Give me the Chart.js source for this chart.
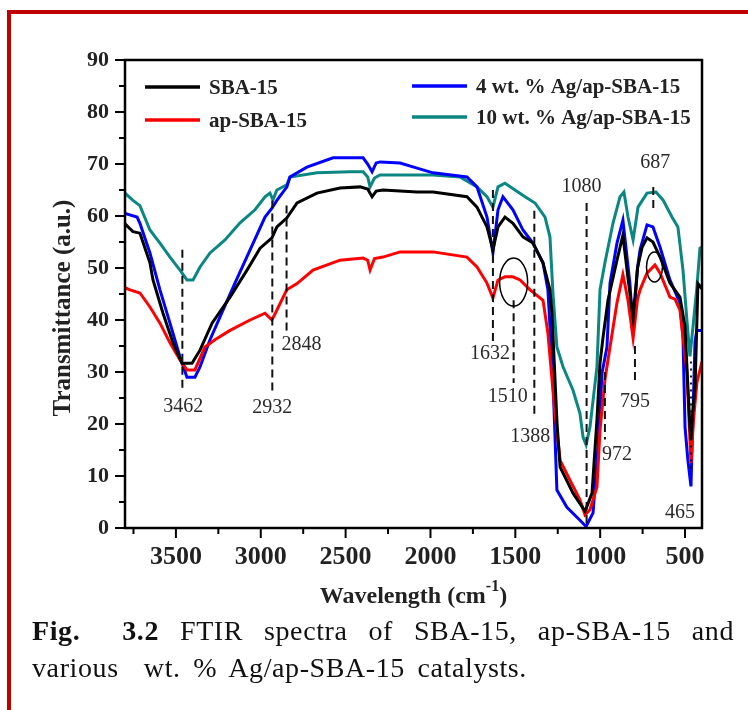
<!DOCTYPE html>
<html>
<head>
<meta charset="utf-8">
<title>FTIR spectra</title>
<script src="https://cdn.jsdelivr.net/npm/chart.js@4.4.1/dist/chart.umd.min.js"></script>
<style>
  html, body { margin: 0; padding: 0; background: #fff; }
  #page { position: relative; width: 748px; height: 710px; overflow: hidden; }
  #chartBox { position: absolute; left: 0; top: 0; width: 748px; height: 612px; }
  #frame { position: absolute; left: 7px; top: 10px; right: -10px; bottom: -10px;
           border-left: 4px solid #c00000; border-top: 4px solid #c00000; pointer-events: none; }
  .cap { position: absolute; left: 32px; width: 702px; color: #111; letter-spacing: 0.6px;
         font: 28px "Liberation Serif", "Times New Roman", serif; white-space: nowrap; }
  #cap1 { top: 615px; text-align: justify; text-align-last: justify; white-space: normal; }
  #cap2 { top: 652px; word-spacing: 5px; }
</style>
</head>
<body>
<div id="page">
  <div id="chartBox"><canvas id="ftirChart" width="748" height="612"></canvas></div>
  <div id="frame"></div>
  <div class="cap" id="cap1"><b>Fig.</b>&nbsp; <b>3.2</b> FTIR spectra of SBA-15, ap-SBA-15 and</div>
  <div class="cap" id="cap2">various&nbsp; wt. % Ag/ap-SBA-15 catalysts.</div>
</div>

<script>
'use strict';

/* --- Data (wavenumber cm-1 / transmittance a.u.) --- */
const seriesNames = ['SBA-15', 'ap-SBA-15', '4 wt. % Ag/ap-SBA-15', '10 wt. % Ag/ap-SBA-15'];

const wnSba = [3800, 3753, 3712, 3653, 3635, 3576, 3517, 3464, 3405, 3358, 3287, 3181, 3081, 3004, 2934, 2905, 2847, 2786, 2669, 2533, 2415, 2370, 2344, 2320, 2280, 2079, 1985, 1785, 1726, 1667, 1632, 1602, 1561, 1514, 1455, 1396, 1337, 1296, 1284, 1254, 1236, 1160, 1089, 1048, 1019, 1001, 983, 954, 901, 866, 836, 806, 780, 753, 724, 689, 647, 589, 530, 500, 483, 471, 465, 455, 441, 424, 400];
const tSba = [58.5, 57, 56.7, 51, 47.7, 41.3, 35.6, 31.7, 31.7, 34.2, 39.4, 44.4, 49.6, 53.8, 55.8, 57.9, 59.6, 62.5, 64.4, 65.4, 65.6, 65.2, 63.7, 64.8, 65, 64.6, 64.6, 63.7, 61.7, 57.9, 53.5, 57.9, 59.8, 58.6, 56, 54.8, 51, 45.8, 41.3, 20, 11.7, 6.7, 3.2, 6.7, 20.8, 31.7, 36.7, 43.8, 51.5, 56.3, 48, 40.5, 50, 54, 55.8, 55, 52.1, 47.1, 44.4, 38.7, 27, 19.4, 17, 22, 27, 47, 46];

const wnApSba = [3800, 3770, 3712, 3653, 3594, 3535, 3476, 3435, 3388, 3329, 3270, 3181, 3063, 2975, 2934, 2905, 2847, 2786, 2692, 2533, 2397, 2370, 2356, 2330, 2280, 2179, 1985, 1785, 1726, 1667, 1632, 1602, 1561, 1514, 1472, 1413, 1337, 1308, 1266, 1236, 1178, 1119, 1089, 1060, 1019, 1001, 972, 942, 901, 866, 836, 806, 780, 765, 724, 677, 647, 589, 559, 530, 489, 465, 450, 430, 400];
const tApSba = [46.2, 45.8, 45.2, 42.5, 39.4, 35.6, 32.3, 30.4, 30.4, 34.8, 36.2, 38, 40, 41.3, 40, 41.9, 45.8, 47, 49.6, 51.5, 51.9, 51.5, 49.6, 51.8, 52.1, 53.1, 53.1, 52.1, 50.2, 47.1, 44.2, 47.7, 48.3, 48.3, 47.7, 45.8, 43.8, 37.5, 22, 13, 9.2, 5.4, 2.5, 3.5, 7.9, 18.8, 28.5, 34.8, 43.3, 48.7, 43.8, 36.5, 44, 45.8, 49, 50.6, 49, 44.4, 44, 41.9, 30, 12.5, 20.8, 28, 32];

const wnAg4 = [3800, 3729, 3712, 3653, 3594, 3535, 3476, 3435, 3388, 3358, 3299, 3240, 3152, 3063, 2975, 2934, 2905, 2846, 2828, 2728, 2574, 2397, 2370, 2344, 2320, 2297, 2179, 2079, 1985, 1785, 1726, 1667, 1632, 1602, 1573, 1514, 1455, 1396, 1337, 1308, 1278, 1255, 1196, 1119, 1083, 1042, 1013, 989, 960, 942, 901, 866, 825, 806, 780, 765, 724, 689, 647, 589, 530, 512, 500, 483, 465, 441, 430, 400];
const tAg4 = [60.5, 59.8, 58.6, 52.9, 45.8, 39.4, 32.9, 29, 29, 31, 36.2, 40.6, 47.1, 53.5, 59.8, 61.5, 63, 65.6, 67.5, 69.4, 71.2, 71.2, 70, 68.5, 70.2, 70.4, 70.2, 69.2, 68.3, 67.5, 65.6, 59.8, 52.9, 61.2, 63.7, 61.2, 57.3, 54.8, 51, 45.8, 28.5, 7.3, 4, 1.5, 0.3, 2.9, 15.6, 29.8, 34.8, 47.1, 54.8, 59.2, 47.1, 38, 50, 53.5, 58.3, 57.9, 54, 47.7, 43.3, 36.7, 19.4, 13, 8, 36, 38, 38];

const wnAg10 = [3800, 3753, 3712, 3653, 3594, 3535, 3476, 3435, 3399, 3358, 3299, 3211, 3122, 3034, 2975, 2946, 2928, 2905, 2846, 2828, 2669, 2474, 2397, 2370, 2356, 2330, 2297, 2079, 1985, 1826, 1726, 1667, 1632, 1602, 1561, 1502, 1443, 1384, 1325, 1296, 1278, 1255, 1219, 1160, 1119, 1101, 1083, 1060, 1019, 1001, 972, 924, 883, 860, 836, 806, 777, 724, 671, 630, 577, 542, 512, 489, 471, 453, 430, 412, 400];
const tAg10 = [64.4, 63, 62, 57.3, 54.8, 52.1, 49.6, 47.7, 47.7, 50.2, 52.9, 55.4, 58.7, 61.2, 63.7, 64.4, 63.1, 65, 66, 67.5, 68.3, 68.5, 68.5, 67.5, 65.6, 67.3, 67.9, 67.9, 67.9, 67.5, 65.6, 63.7, 61.7, 65.6, 66.3, 65, 63.7, 62.5, 59.8, 56, 45, 34.8, 31, 26.5, 22, 17.5, 16, 19.4, 31, 45.8, 51, 58.7, 63.7, 64.6, 59.8, 55.4, 61.7, 64.4, 64.6, 63.1, 59.8, 57.9, 49.6, 40, 33, 38.7, 46.3, 53.8, 54];

/* Axis ticks */
const xTicks = [500, 1000, 1500, 2000, 2500, 3000, 3500];
const xMinorTicks = [750, 1250, 1750, 2250, 2750, 3250, 3750];
const yTicks = [0, 10, 20, 30, 40, 50, 60, 70, 80, 90];
const yMinorTicks = [5, 15, 25, 35, 45, 55, 65, 75, 85];

/* Band markers: position, dashed span and label height (data units) */
const bandLabels = ['3462', '2932', '2848', '1632', '1510', '1388', '1080', '972', '795', '687', '465'];
const bandWn     = [3462, 2932, 2848, 1632, 1510, 1388, 1080, 972, 795, 687, 465];
const bandTop    = [53.5, 63, 62, 65, 43.8, 61, 62.5, 30, 35, 65.6, 32];
const bandBottom = [26, 25.6, 38, 35.6, 27.9, 21.3, 0, 17, 27.5, 60.6, 11];
const bandTextT  = [23.3, 23.1, 35.2, 33.6, 25.2, 17.5, 65.6, 14, 24.2, 70.2, 2.9];

/* --- Styling --- */
const colors = ['#000000', '#ff0000', '#0000ff', '#0a8783'];
const serif = '"Liberation Serif", "Times New Roman", serif';
const labelShift = [1, 0, 15, -3, -6, -4, -5, 12, 0, 2, -11];  // px, label vs dashed line

const toPoints = (xs, ys) => xs.map((v, i) => ({ x: v, y: ys[i] }));
const seriesData = [toPoints(wnSba, tSba), toPoints(wnApSba, tApSba), toPoints(wnAg4, tAg4), toPoints(wnAg10, tAg10)];

// Extra drawing: frame, tick marks, band markers, legend, titles
const figureExtras = {
  id: 'figureExtras',
  afterDatasetsDraw(chart) {
    const { ctx, chartArea: a, scales: { x, y } } = chart;
    ctx.save();

    // plot frame
    ctx.strokeStyle = '#000';
    ctx.lineWidth = 2.5;
    ctx.strokeRect(a.left, a.top, a.right - a.left, a.bottom - a.top);

    // tick marks (outward)
    ctx.lineWidth = 2;
    const tick = (x1, y1, x2, y2) => { ctx.beginPath(); ctx.moveTo(x1, y1); ctx.lineTo(x2, y2); ctx.stroke(); };
    xTicks.forEach(v => { const px = x.getPixelForValue(v); tick(px, a.bottom, px, a.bottom + 10); });
    xMinorTicks.forEach(v => { const px = x.getPixelForValue(v); tick(px, a.bottom, px, a.bottom + 6); });
    yTicks.forEach(v => { const py = y.getPixelForValue(v); tick(a.left, py, a.left - 10, py); });
    yMinorTicks.forEach(v => { const py = y.getPixelForValue(v); tick(a.left, py, a.left - 6, py); });

    // band markers
    ctx.lineWidth = 2;
    ctx.fillStyle = '#2a2a2a';
    ctx.font = '20px ' + serif;
    ctx.textAlign = 'center';
    ctx.textBaseline = 'middle';
    bandWn.forEach((w, i) => {
      const px = x.getPixelForValue(w);
      ctx.setLineDash(bandLabels[i] === '465' ? [2, 5] : [8, 5]);
      ctx.strokeStyle = '#111';
      tick(px, y.getPixelForValue(bandTop[i]), px, y.getPixelForValue(bandBottom[i]));
      ctx.setLineDash([]);
      ctx.fillText(bandLabels[i], px + labelShift[i], y.getPixelForValue(bandTextT[i]));
    });

    // circled regions
    ctx.lineWidth = 1.5;
    ctx.strokeStyle = '#000';
    ctx.beginPath();
    ctx.ellipse(x.getPixelForValue(1510), y.getPixelForValue(47.3), 14, 24, 0, 0, Math.PI * 2);
    ctx.stroke();
    ctx.beginPath();
    ctx.ellipse(x.getPixelForValue(680), y.getPixelForValue(50.2), 8, 15, 0, 0, Math.PI * 2);
    ctx.stroke();

    // legend
    const legendSlots = [[145, 87], [145, 120], [412, 86], [412, 117]];
    ctx.font = 'bold 21px ' + serif;
    ctx.textAlign = 'left';
    seriesNames.forEach((name, i) => {
      const [lx, ly] = legendSlots[i];
      ctx.strokeStyle = colors[i];
      ctx.lineWidth = 3.5;
      tick(lx, ly, lx + 55, ly);
      ctx.fillStyle = '#222';
      ctx.fillText(name, lx + 64, ly + 2);
    });

    // axis titles
    ctx.fillStyle = '#222';
    ctx.font = 'bold 25px ' + serif;
    ctx.textAlign = 'center';
    ctx.textBaseline = 'alphabetic';
    ctx.save();
    ctx.translate(70, 308);
    ctx.rotate(-Math.PI / 2);
    ctx.fillText('Transmittance (a.u.)', 0, 0);
    ctx.restore();

    const main = 'Wavelength (cm';
    const sup = '-1';
    const close = ')';
    ctx.font = 'bold 24px ' + serif;
    const wMain = ctx.measureText(main).width;
    const wClose = ctx.measureText(close).width;
    ctx.font = 'bold 16px ' + serif;
    const wSup = ctx.measureText(sup).width;
    let tx = (a.left + a.right) / 2 - (wMain + wSup + wClose) / 2;
    ctx.textAlign = 'left';
    ctx.font = 'bold 24px ' + serif;
    ctx.fillText(main, tx, 603);
    tx += wMain;
    ctx.font = 'bold 16px ' + serif;
    ctx.fillText(sup, tx, 591);
    tx += wSup;
    ctx.font = 'bold 24px ' + serif;
    ctx.fillText(close, tx, 603);

    ctx.restore();
  }
};

new Chart(document.getElementById('ftirChart'), {
  type: 'scatter',
  data: {
    datasets: seriesNames.map((name, i) => ({
      label: name,
      data: seriesData[i],
      showLine: true,
      borderColor: colors[i],
      backgroundColor: colors[i],
      borderWidth: 3,
      pointRadius: 0,
      tension: 0
    }))
  },
  options: {
    responsive: false,
    animation: false,
    layout: { padding: { left: 0, top: 60, right: 46, bottom: 0 } },
    plugins: { legend: { display: false }, tooltip: { enabled: false } },
    scales: {
      x: {
        type: 'linear',
        reverse: true,
        min: 400,
        max: 3800,
        afterBuildTicks: s => { s.ticks = xTicks.map(v => ({ value: v })); },
        afterFit: s => { s.height = 84; },
        grid: { display: false, drawTicks: true, tickLength: 10 },
        border: { display: false },
        ticks: {
          padding: 4, color: '#222', maxRotation: 0,
          font: { family: serif, size: 26, weight: 'bold' },
          callback: v => String(v)
        }
      },
      y: {
        min: 0,
        max: 90,
        afterBuildTicks: s => { s.ticks = yTicks.map(v => ({ value: v })); },
        afterFit: s => { s.width = 125; },
        grid: { display: false, drawTicks: true, tickLength: 10 },
        border: { display: false },
        ticks: { padding: 6, color: '#222', font: { family: serif, size: 22, weight: 'bold' } }
      }
    }
  },
  plugins: [figureExtras]
});
</script>
</body>
</html>
